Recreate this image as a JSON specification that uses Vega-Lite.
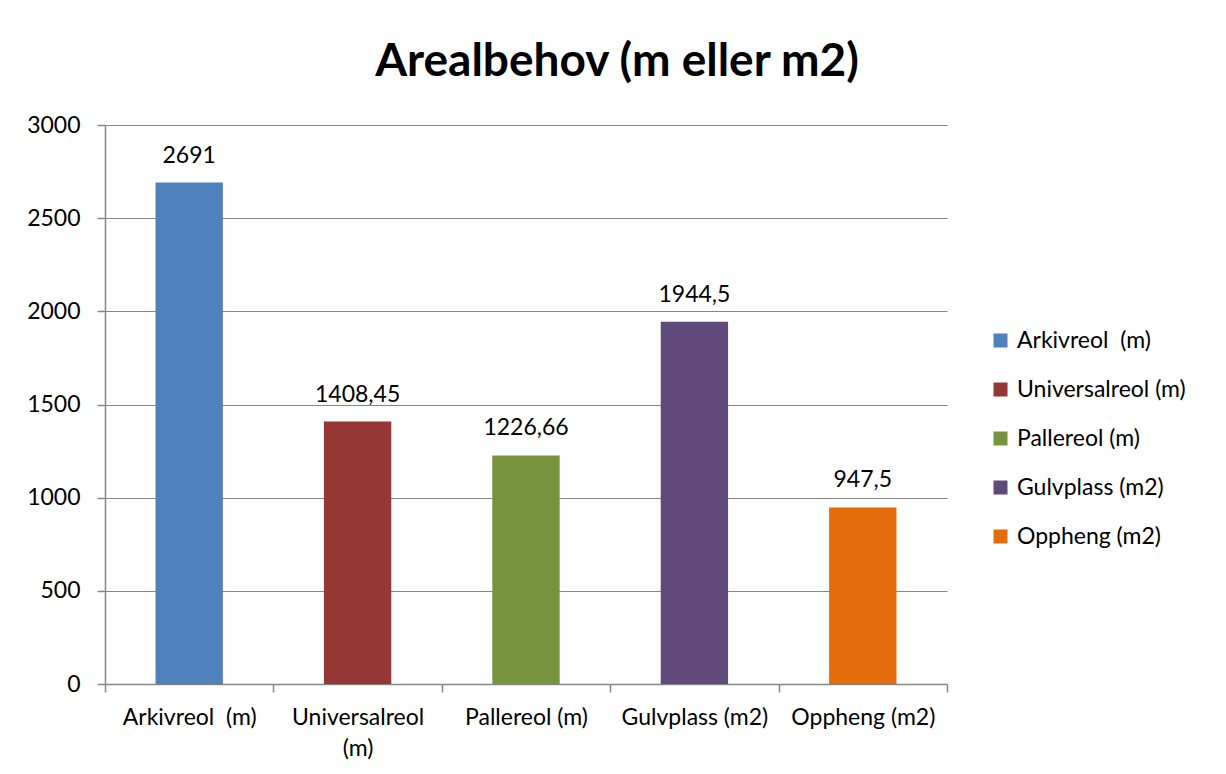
{
  "$schema": "https://vega.github.io/schema/vega-lite/v6.json",
  "autosize": "none",
  "padding": {"left": 105, "top": 125, "right": 279, "bottom": 90},
  "width": 842,
  "height": 559,
  "background": "white",
  "title": {
    "text": "Arealbehov (m eller m2)",
    "font": "Lato",
    "fontSize": 46,
    "fontWeight": "bold",
    "color": "#000000",
    "anchor": "middle",
    "dx": 91,
    "offset": 28
  },
  "data": {
    "values": [
      {"kategori": "Arkivreol\u00a0 (m)", "verdi": 2691, "etikett": "2691"},
      {"kategori": "Universalreol (m)", "verdi": 1408.45, "etikett": "1408,45"},
      {"kategori": "Pallereol (m)", "verdi": 1226.66, "etikett": "1226,66"},
      {"kategori": "Gulvplass (m2)", "verdi": 1944.5, "etikett": "1944,5"},
      {"kategori": "Oppheng (m2)", "verdi": 947.5, "etikett": "947,5"}
    ]
  },
  "encoding": {
    "x": {
      "field": "kategori",
      "type": "nominal",
      "sort": null,
      "scale": {"paddingInner": 0, "paddingOuter": 0},
      "axis": {
        "title": null,
        "labelAngle": 0,
        "labelFont": "Lato",
        "labelFontSize": 23,
        "labelColor": "#000000",
        "labelPadding": 14,
        "labelLineHeight": 31,
        "labelExpr": "datum.label == 'Universalreol (m)' ? ['Universalreol', '(m)'] : datum.label",
        "tickBand": "extent",
        "tickSize": 8,
        "tickColor": "#868686",
        "domainColor": "#868686",
        "domainWidth": 1.5,
        "tickWidth": 1.5,
        "grid": false
      }
    },
    "y": {
      "field": "verdi",
      "type": "quantitative",
      "scale": {"domain": [0, 3000], "nice": false},
      "axis": {
        "title": null,
        "values": [0, 500, 1000, 1500, 2000, 2500, 3000],
        "labelFont": "Lato",
        "labelFontSize": 23,
        "labelColor": "#000000",
        "labelPadding": 17,
        "tickSize": 8,
        "tickColor": "#868686",
        "domainColor": "#868686",
        "domainWidth": 1.5,
        "tickWidth": 1.5,
        "gridColor": "#868686",
        "gridWidth": 1.2,
        "format": "d"
      }
    }
  },
  "layer": [
    {
      "mark": {"type": "bar", "width": {"band": 0.4}},
      "encoding": {
        "color": {
          "field": "kategori",
          "type": "nominal",
          "sort": null,
          "scale": {
            "domain": ["Arkivreol\u00a0 (m)", "Universalreol (m)", "Pallereol (m)", "Gulvplass (m2)", "Oppheng (m2)"],
            "range": ["#4F81BD", "#953735", "#77933C", "#604A7B", "#E46C0A"]
          },
          "legend": {
            "title": null,
            "orient": "none",
            "legendX": 884,
            "legendY": 204,
            "symbolType": "square",
            "symbolSize": 196,
            "symbolStrokeWidth": 0,
            "labelFont": "Lato",
            "labelFontSize": 23,
            "labelColor": "#000000",
            "labelOffset": 5,
            "rowPadding": 25,
            "labelLimit": 300
          }
        }
      }
    },
    {
      "mark": {"type": "text", "baseline": "alphabetic", "dy": -20, "font": "Lato", "fontSize": 23, "color": "#000000"},
      "encoding": {
        "text": {"field": "etikett", "type": "nominal"}
      }
    }
  ],
  "config": {
    "view": {"stroke": null}
  }
}
